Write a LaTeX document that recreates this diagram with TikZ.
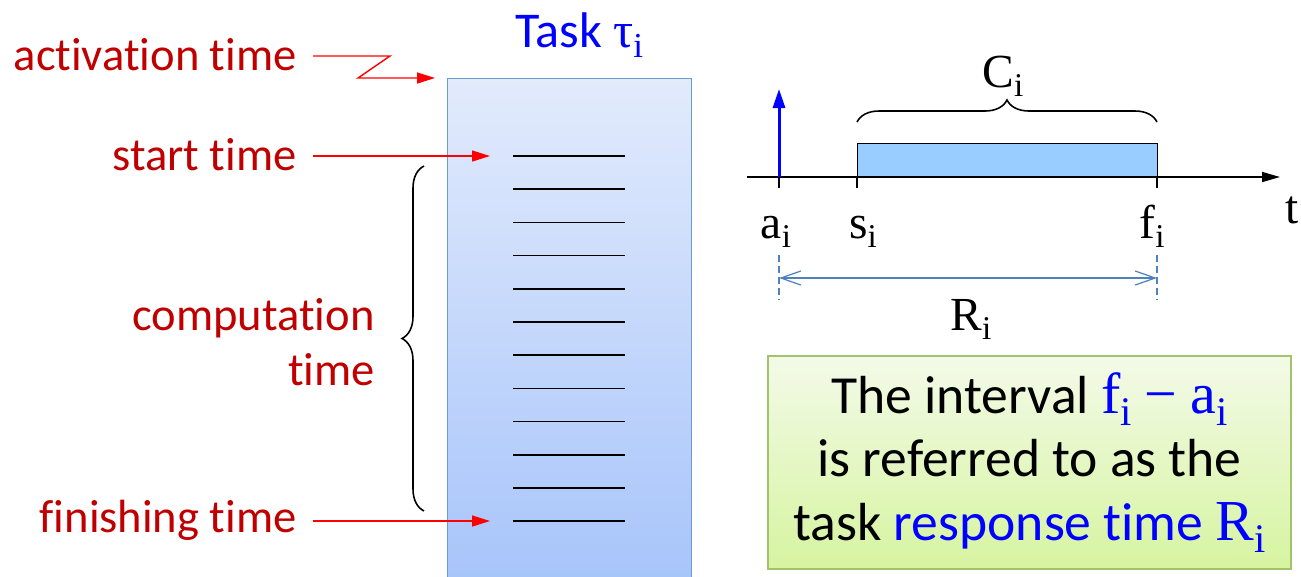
\documentclass[tikz,border=0pt]{standalone}
\usepackage{fontspec}
\usepackage{graphicx}
\setmainfont[Ligatures={TeX,NoCommon}]{Carlito}
\newfontfamily\tms{Liberation Serif}
\usetikzlibrary{arrows.meta,decorations.pathreplacing}
\definecolor{labelred}{HTML}{C00000}
\definecolor{arrowred}{HTML}{FF0000}
\definecolor{taskblue}{HTML}{0000FF}
\definecolor{boxtop}{HTML}{E2EBFC}
\definecolor{boxbot}{HTML}{A4C2FA}
\definecolor{boxline}{HTML}{6C9BD2}
\definecolor{barfill}{HTML}{99CCFF}
\definecolor{spanblue}{HTML}{4F81BD}
\definecolor{notetop}{HTML}{F3FAE8}
\definecolor{notebot}{HTML}{D6F4A0}
\definecolor{noteline}{HTML}{A3C36A}
\newcommand{\isub}[1]{{\tms #1\raisebox{-0.21em}{\scalebox{0.7}{i}}}}
\begin{document}
\begin{tikzpicture}[x=0.02cm, y=-0.02cm,
  lbl/.style={text=labelred, anchor=base east, inner sep=0pt, font=\fontsize{26.5}{31}\selectfont},
  pointer/.style={arrowred, line width=0.8pt, -{Triangle[length=0.36cm, width=0.22cm]}},
  sym/.style={anchor=base, inner sep=0pt, font=\fontsize{27}{30}\selectfont\tms},
  tickmark/.style={line width=1.2pt},
  curly/.style={decorate, decoration={brace, amplitude=0.44cm}, line width=0.9pt}]
\useasboundingbox (0,0) rectangle (1301,576);

\node[draw=boxline, line width=0.8pt, top color=boxtop, bottom color=boxbot, minimum width=4.88cm, minimum height=10.6cm, anchor=north west, inner sep=0pt] (task) at (447,78) {};
\node[text=taskblue, anchor=base, inner sep=0pt, font=\fontsize{28.5}{30}\selectfont] (title) at (579,47) {Task {\tms τ\raisebox{-0.21em}{\scalebox{0.7}{i}}}};
\foreach \k in {0,...,11}
  \draw[line width=1pt] (513,{156+33.2*\k}) -- (625,{156+33.2*\k});

\node[lbl] (act) at (297,70) {activation time};
\node[lbl] (start) at (297,170) {start time};
\node[lbl, align=right] (comp) at (375,385) {computation\\time};
\node[lbl] (fin) at (297,532) {finishing time};

\coordinate (actbend) at (390,56);
\coordinate (actin) at (435,78);
\coordinate (startin) at (490,156);
\coordinate (finin) at (490,521);
\draw[pointer] ([xshift=0.32cm]act.base east |- actbend) -- (actbend) -- (358,78) -- (actin);
\draw[pointer] ([xshift=0.32cm]start.base east |- startin) -- (startin);
\draw[pointer] ([xshift=0.32cm]fin.base east |- finin) -- (finin);
\draw[curly] (424,511) -- (424,166);

\node[draw, line width=0.8pt, fill=barfill, anchor=south west, minimum width=6cm, minimum height=0.66cm, inner sep=0pt] (exec) at (857,177) {};
\coordinate (t0) at (747,177);
\coordinate (tend) at (1280,177);
\draw[line width=0.9pt, -{Triangle[length=0.36cm, width=0.2cm]}] (t0) -- (tend);
\node[sym] (tlbl) at (1292,223) {t};
\draw[taskblue, line width=1.7pt, -{Triangle[length=0.38cm, width=0.24cm]}] (779,177) -- (779,89);
\foreach \x in {779,857,1157}
  \draw[tickmark] (\x,177) -- (\x,188);
\draw[curly] (857,122) -- (1157,122);
\node[sym] (ci) at (1003,87) {\isub{C}};

\node[sym] (ai) at (776,238) {\isub{a}};
\node[sym] (si) at (863,238) {\isub{s}};
\node[sym] (fi) at (1152,238) {\isub{f}};

\coordinate (rlo) at (779,278);
\coordinate (rhi) at (1157,278);
\draw[spanblue, line width=0.7pt, dash pattern=on 4pt off 2.3pt] (779,255) -- (779,300);
\draw[spanblue, line width=0.7pt, dash pattern=on 4pt off 2.3pt] (1157,255) -- (1157,300);
\draw[spanblue, line width=0.7pt, {Straight Barb[length=0.4cm, width=0.28cm]}-{Straight Barb[length=0.4cm, width=0.28cm]}] (rlo) -- (rhi);
\node[sym] (ri) at (971,330) {\isub{R}};

\node[draw=noteline, line width=1pt, top color=notetop, bottom color=notebot, minimum width=10.46cm, minimum height=4.26cm, inner sep=0pt, align=center, font=\fontsize{30.5}{36.3}\selectfont] (note) at (1029.5,462.5) {The interval {\color{taskblue}\fontsize{33}{36}\selectfont\isub{f} {\tms −} \isub{a}}\\is referred to as the\\task {\color{taskblue}response time {\fontsize{33}{36}\selectfont\isub{R}}}};
\end{tikzpicture}
\end{document}
